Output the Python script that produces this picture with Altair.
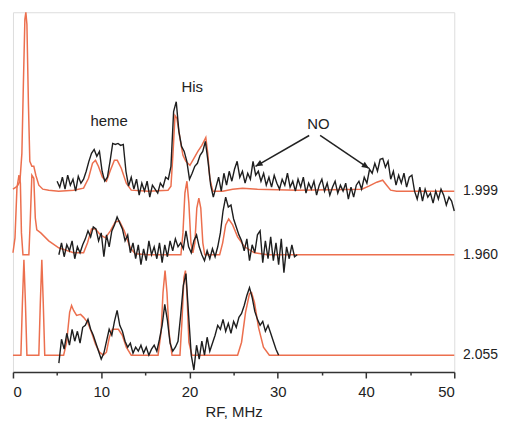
import altair as alt
import pandas as pd
import numpy as np

ORANGE = "#EC6F4E"
BLACK = "#1e1e1e"
FONT = "Liberation Sans"

# g-values of the three stacked traces and their vertical offsets
g_labels = ["1.999", "1.960", "2.055"]
g_offsets = [182, 118, 17]

# ---- simulated spectra (MHz, intensity) ----
sim_1999_x = [0.0, 0.34, 0.56, 0.79, 1.01, 1.18, 1.35, 1.46, 1.58, 1.75, 1.91, 2.14, 2.36, 2.59, 2.93,
              3.38, 4.05, 5.18, 6.87, 8.0, 8.56, 9.01, 9.35, 9.68, 10.14, 10.59, 11.04, 11.49, 11.82,
              12.27, 12.84, 13.4, 15.3, 17.57, 17.9, 18.13, 18.36, 18.58, 18.92, 19.26, 19.59, 20.05,
              20.5, 20.95, 21.4, 21.85, 22.07, 22.3, 22.64, 23.76, 24.89, 26.01, 27.7, 32.2, 39.53,
              40.32, 41.22, 41.89, 42.34, 42.79, 43.47, 50.0]
sim_1999_y = [2, 4, 6, 10, 38, 108, 173, 180, 168, 88, 30, 25, 25, 16, 6,
              2, 1, 0, 1, 3, 13, 28, 31, 25, 14, 10, 21, 31, 31,
              23, 8, 1, 0, 1, 5, 38, 76, 73, 53, 36, 30, 26,
              33, 40, 46, 54, 38, 13, 0, 0, 2, 3, 2, 1, 2,
              5, 9, 11, 6, 1, 0, 0]

sim_1960_x = [0.0, 0.23, 0.45, 0.68, 0.84, 0.96, 1.13, 1.8, 1.97, 2.14, 2.36, 2.53, 2.7, 3.15, 4.05,
              5.18, 6.87, 8.0, 8.45, 8.9, 9.35, 9.91, 10.47, 11.04, 11.6, 12.05, 12.61, 13.29, 13.85,
              15.3, 19.03, 19.26, 19.48, 19.71, 19.93, 20.16, 20.38, 20.61, 20.83, 21.06, 21.28, 21.51,
              21.73, 23.42, 23.76, 24.1, 24.44, 24.89, 25.45, 26.24, 27.36, 28.83, 50.0]
sim_1960_y = [2, 17, 67, 80, 72, 22, 0, 0, 37, 80, 77, 37, 25, 22, 14,
              7, 2, 2, 12, 26, 26, 20, 17, 24, 33, 34, 24, 7, 1,
              0, 0, 22, 62, 74, 52, 12, 2, 12, 47, 57, 47, 12,
              0, 0, 12, 30, 36, 30, 18, 8, 2, 0, 0]

sim_2055_x = [0.0, 0.9, 1.07, 1.24, 1.41, 1.58, 2.93, 3.1, 3.27, 3.43, 3.6, 5.74, 6.08, 6.42, 6.64,
              6.87, 7.21, 7.66, 8.0, 8.45, 8.9, 9.35, 9.8, 10.25, 10.59, 10.92, 11.26, 11.94, 12.39,
              12.84, 13.4, 16.44, 16.78, 17.0, 17.23, 17.45, 17.68, 18.02, 18.92, 19.14, 19.37, 19.54,
              19.71, 19.93, 20.27, 25.45, 25.9, 26.35, 26.8, 27.03, 27.36, 27.82, 28.38, 29.05, 50.0]
sim_2055_y = [0, 0, 53, 96, 53, 0, 0, 53, 96, 53, 0, 0, 13, 43, 50,
              45, 40, 41, 38, 33, 23, 11, 3, 0, 3, 18, 26, 26, 20,
              8, 0, 0, 23, 63, 85, 63, 23, 0, 0, 33, 78, 85,
              63, 13, 0, 0, 13, 43, 62, 63, 53, 28, 8, 0, 0]

# ---- experimental spectra: sampled every 0.3 MHz from a start frequency ----
exp_step = 0.3
exp_1999_start = 5.0
exp_1999_y = [10, 4, 14, 2, 16, 6, 12, 0, 15, 8,
              12, 20, 30, 38, 42, 35, 40, 20, 10, 14,
              30, 48, 47, 48, 46, 47, 20, 5, 14, 2,
              12, -4, 8, 0, 10, -6, 6, 2, -2, 8,
              4, 14, 12, 25, 80, 90, 60, 45, 40, 30,
              12, 18, 25, 28, 36, 40, 50, 30, 6, -6,
              4, 14, 0, 18, 6, 20, 10, 22, 30, 14,
              20, 8, 18, 12, 30, 16, 20, 10, 18, 6,
              14, 4, 16, 8, 2, 12, 6, 18, 4, 10,
              0, 12, 4, 14, -2, 8, 2, 10, -4, 6,
              12, 0, 8, -4, 4, 10, -2, 6, 0, 8,
              -8, 4, -6, 6, 10, 2, 14, 8, 22, 18,
              28, 20, 32, 33, 24, 30, 12, 20, 6, 16,
              8, 18, 4, 14, 16, 0, -8, 4, -10, 2,
              -6, -2, -12, 0, -8, 2, -4, -14, -6, -10,
              -20]
exp_1960_start = 5.2
exp_1960_y = [0, 12, -2, 10, 4, 14, -4, 8, 2, 10,
              16, 24, 18, 28, 26, 14, 22, -2, 20, 8,
              24, 30, 38, 32, 26, 14, 20, 2, 12, -4,
              10, -10, 6, -6, 14, 0, 8, -4, 12, -8,
              10, -2, 14, 4, 16, 8, 12, 6, 24, 8,
              2, 14, 20, 8, 0, -6, 4, -4, 6, -2,
              8, 22, 44, 58, 48, 50, 36, 28, 20, 14,
              4, 16, -6, 10, 2, 20, 24, -8, 14, -4,
              18, -6, 12, -10, 16, -18, 8, -4, 10, -2,
              0]
exp_2055_start = 5.2
exp_2055_y = [-8, 16, 6, 22, 10, 26, 14, 24, 12, 28,
              30, 36, 26, 20, 12, 4, -4, 2, 14, 26,
              20, 34, 45, 30, 24, 14, 8, 12, 2, 8,
              4, 10, 2, 8, 0, 6, 10, 4, 16, 30,
              51, 35, 12, 4, 8, 14, 40, 70, 82, 40,
              0, -15, 10, -4, 14, 0, 18, 4, 12, 20,
              30, 26, 36, 24, 32, 22, 34, 28, 38, 42,
              50, 60, 68, 58, 44, 36, 30, 34, 24, 30,
              22, 14, 6, 0]

# ---- annotations ----
ann_text = ["heme", "His", "NO"]
ann_x = [10.9, 20.3, 34.6]
ann_y = [248, 282, 245]
arrow_x1 = [33.56, 34.8]
arrow_y1 = [238, 238]
arrow_x2 = [27.48, 40.32]
arrow_y2 = [207, 205]
label_x = 51.0

# ---- build tables ----
sims = [(sim_1999_x, sim_1999_y), (sim_1960_x, sim_1960_y), (sim_2055_x, sim_2055_y)]
exps = [(exp_1999_start, exp_1999_y), (exp_1960_start, exp_1960_y), (exp_2055_start, exp_2055_y)]

rows = []
for g, off, (xs, ys) in zip(g_labels, g_offsets, sims):
    for i, (a, b) in enumerate(zip(xs, ys)):
        rows.append({"g": g, "i": i, "mhz": a, "v": b + off})
df_sim = pd.DataFrame(rows)

rows = []
for g, off, (s, ys) in zip(g_labels, g_offsets, exps):
    for i, b in enumerate(ys):
        rows.append({"g": g, "i": i, "mhz": round(s + exp_step * i, 2), "v": b + off})
df_exp = pd.DataFrame(rows)

df_lab = pd.DataFrame({"g": g_labels, "mhz": [label_x] * 3, "v": g_offsets})
df_ann = pd.DataFrame({"t": ann_text, "mhz": ann_x, "v": ann_y})

PX_PER_MHZ = 444 / 50.0
dx = (np.array(arrow_x2) - np.array(arrow_x1)) * PX_PER_MHZ
dy = -(np.array(arrow_y2) - np.array(arrow_y1))
ang = np.mod(np.degrees(np.arctan2(dx, -dy)), 360)
df_arr = pd.DataFrame({"x1": arrow_x1, "y1": arrow_y1, "x2": arrow_x2, "y2": arrow_y2, "ang": ang})

xscale = alt.Scale(domain=[0, 50], nice=False, zero=False)
yscale = alt.Scale(domain=[0, 362], nice=False, zero=False)

xaxis = alt.Axis(
    values=[0, 5, 10, 15, 20, 25, 30, 35, 40, 45, 50],
    labelExpr="datum.value % 10 === 0 ? datum.label : ''",
    tickSize={"condition": {"test": "datum.value % 10 === 0", "value": 6}, "value": 3},
    grid=False, labelFont=FONT, labelFontSize=15, labelColor="#222",
    titleFont=FONT, titleFontSize=15, titleFontWeight="normal", titleColor="#222",
    titlePadding=5, domainColor="#333", tickColor="#333", domainWidth=1.5, tickWidth=1.5,
    labelPadding=7,
)

sim = alt.Chart(df_sim).mark_line(color=ORANGE, strokeWidth=1.5).encode(
    x=alt.X("mhz:Q", scale=xscale, axis=xaxis, title="RF, MHz"),
    y=alt.Y("v:Q", scale=yscale, axis=None),
    detail="g:N",
    order="i:Q",
)
exp = alt.Chart(df_exp).mark_line(color=BLACK, strokeWidth=1.4).encode(
    x="mhz:Q", y="v:Q", detail="g:N", order="i:Q"
)
labs = alt.Chart(df_lab).mark_text(align="left", baseline="middle", font=FONT, fontSize=14, color="#222").encode(
    x="mhz:Q", y="v:Q", text="g:N"
)
anns = alt.Chart(df_ann).mark_text(align="center", baseline="alphabetic", font=FONT, fontSize=15, color="#222").encode(
    x="mhz:Q", y="v:Q", text="t:N"
)
arr_lines = alt.Chart(df_arr).mark_rule(color="#222", strokeWidth=1.5).encode(
    x="x1:Q", y="y1:Q", x2="x2:Q", y2="y2:Q"
)
arr_heads = alt.Chart(df_arr).mark_point(
    shape="M0,0L-0.45,1L0.45,1Z", filled=True, size=200, color="#222", opacity=1
).encode(x="x2:Q", y="y2:Q", angle=alt.Angle("ang:Q", scale=None))

chart = alt.layer(sim, exp, arr_lines, arr_heads, anns, labs).properties(
    width=444, height=362, padding={"left": 2, "top": 0, "right": 0, "bottom": 0}
).configure_view(stroke=None).configure(background="white")

chart.save("out.html", embed_options={"renderer": "svg", "actions": False})
